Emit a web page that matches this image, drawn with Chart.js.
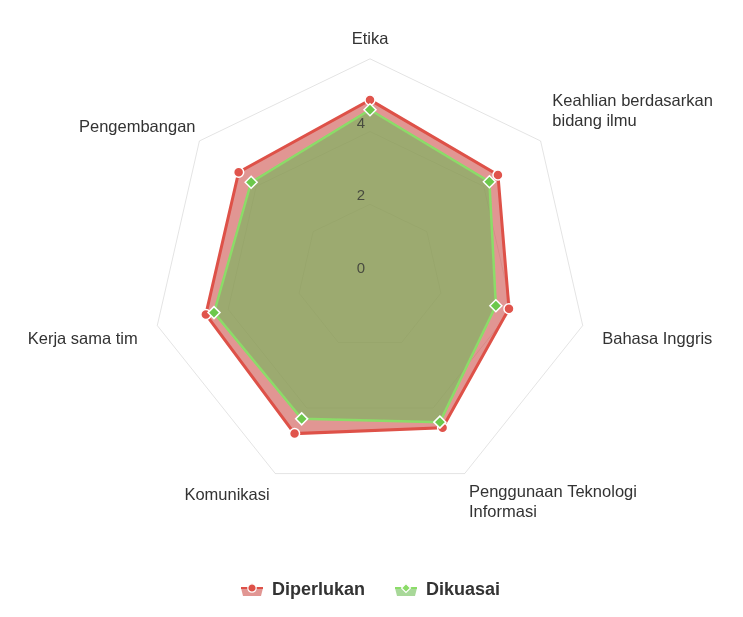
<!DOCTYPE html>
<html>
<head>
<meta charset="utf-8">
<title>Radar</title>
<script src="https://cdn.jsdelivr.net/npm/chart.js@4.4.0/dist/chart.umd.min.js"></script>
<style>
  html, body { margin: 0; padding: 0; background: #fff; }
  #wrap { width: 743px; height: 617px; }
</style>
</head>
<body>
<div id="wrap"><canvas id="mycanvas"></canvas></div>
<script>
// categories (clockwise from top)
var categories = [
	'Etika',
	['Keahlian berdasarkan', 'bidang ilmu'],
	'Bahasa Inggris',
	['Penggunaan Teknologi', 'Informasi'],
	'Komunikasi',
	'Kerja sama tim',
	'Pengembangan'
];
var diperlukan = [4.87, 4.5, 3.92, 4.6, 4.78, 4.63, 4.62];
var dikuasai = [4.6, 4.2, 3.55, 4.43, 4.33, 4.4, 4.18];
var tickLabels = [0, 2, 4];

// gap between outer ring and each category label
var labelGap = [9, 15, 20, 10, 13, 20, 5];

var FONT = '"Liberation Sans", Arial, sans-serif';

// small legend icons: area band + marker
function makeIcon(area, line, marker) {
	var c = document.createElement('canvas');
	c.width = 22; c.height = 14;
	var g = c.getContext('2d');
	g.fillStyle = area;
	g.beginPath();
	g.moveTo(0, 5); g.lineTo(22, 5); g.lineTo(20, 13); g.lineTo(2, 13);
	g.closePath(); g.fill();
	g.strokeStyle = line; g.lineWidth = 2;
	g.beginPath(); g.moveTo(0, 5); g.lineTo(22, 5); g.stroke();
	g.fillStyle = line; g.strokeStyle = '#fff'; g.lineWidth = 1.2;
	g.beginPath();
	if (marker === 'circle') {
		g.arc(11, 5, 4.2, 0, Math.PI * 2);
	} else {
		g.moveTo(11, 0.5); g.lineTo(15.5, 5); g.lineTo(11, 9.5); g.lineTo(6.5, 5); g.closePath();
	}
	g.fill(); g.stroke();
	return c;
}
var icons = [
	makeIcon('rgba(205,80,75,0.6)', '#de5148', 'circle'),
	makeIcon('rgba(110,190,85,0.6)', '#8bdc68', 'diamond')
];

// tick labels, offset up-left like the reference
var tickLabelPlugin = {
	id: 'tickLabels',
	afterDatasetsDraw: function(chart) {
		var r = chart.scales.r;
		var ctx = chart.ctx;
		ctx.save();
		ctx.globalAlpha = 0.8;
		ctx.font = '15px ' + FONT;
		ctx.fillStyle = '#333';
		ctx.textAlign = 'center';
		ctx.textBaseline = 'middle';
		r.ticks.forEach(function(t) {
			if (tickLabels.indexOf(t.value) < 0) return;
			var d = r.getDistanceFromCenterForValue(t.value);
			ctx.fillText(String(t.value), r.xCenter - 9, r.yCenter - d - 8);
		});
		ctx.restore();
	}
};

var chartdata = {
	labels: categories,
	datasets: [
		{
			label: 'Diperlukan',
			data: diperlukan,
			order: 2,
			fill: true,
			backgroundColor: 'rgba(205,80,75,0.6)',
			borderColor: '#de5148',
			borderWidth: 3,
			pointStyle: 'circle',
			pointRadius: 5,
			pointHoverRadius: 6,
			pointBackgroundColor: '#e0544c',
			pointBorderColor: '#fff',
			pointBorderWidth: 1.5
		},
		{
			label: 'Dikuasai',
			data: dikuasai,
			order: 1,
			fill: true,
			backgroundColor: 'rgba(110,184,89,0.6)',
			borderColor: '#8bdc68',
			borderWidth: 2.5,
			pointStyle: 'rectRot',
			pointRadius: 6,
			pointHoverRadius: 7,
			pointBackgroundColor: '#6cc84c',
			pointBorderColor: '#fff',
			pointBorderWidth: 1.5
		}
	]
};

var ctx = document.getElementById('mycanvas');

var RadarGraph = new Chart(ctx, {
	type: 'radar',
	data: chartdata,
	plugins: [tickLabelPlugin],
	options: {
		responsive: true,
		maintainAspectRatio: false,
		animation: false,
		layout: { padding: { top: 30, bottom: 8, left: 0, right: 2 } },
		elements: { line: { tension: 0 } },
		scales: {
			r: {
				min: 0,
				max: 6,
				ticks: { display: false, stepSize: 2 },
				grid: { color: 'rgba(0,0,0,0.11)', lineWidth: 1, circular: false },
				angleLines: { display: false },
				pointLabels: {
					color: '#333',
					padding: function(c) { return labelGap[c.index]; },
					font: { family: FONT, size: 16.5 }
				}
			}
		},
		plugins: {
			tooltip: { enabled: false },
			legend: {
				position: 'bottom',
				title: { display: true, text: '', font: { size: 10, lineHeight: 1 }, padding: { top: 17, bottom: 0 } },
				labels: {
					usePointStyle: true,
					pointStyleWidth: 22,
					padding: 30,
					color: '#333',
					font: { family: FONT, size: 18, weight: 'bold' },
					sort: function(a, b) { return a.datasetIndex - b.datasetIndex; },
					generateLabels: function(chart) {
						var items = Chart.defaults.plugins.legend.labels.generateLabels(chart);
						items.forEach(function(it) { it.pointStyle = icons[it.datasetIndex]; });
						return items;
					}
				}
			}
		}
	}
});
</script>
</body>
</html>
